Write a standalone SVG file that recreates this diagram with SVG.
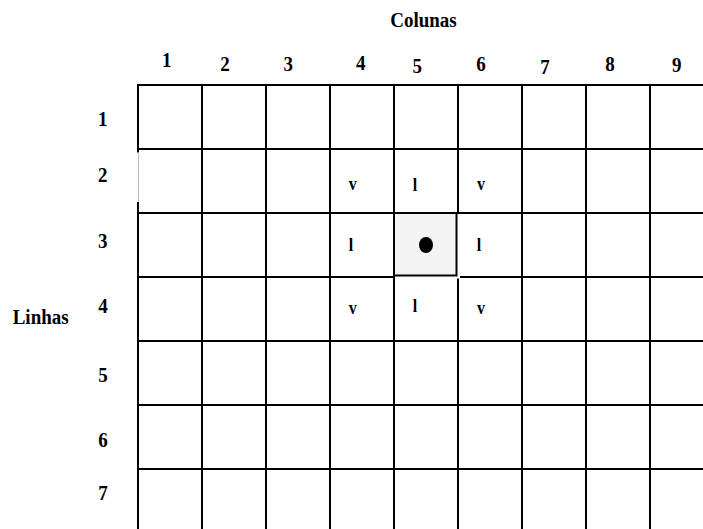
<svg xmlns="http://www.w3.org/2000/svg" width="703" height="529" viewBox="0 0 703 529">
<style>
text{font-family:"Liberation Serif","Times New Roman",serif;font-weight:bold;fill:#000;}
.lab{font-size:19px;text-anchor:middle;}
.ttl{font-size:19px;}
.mk{font-size:16px;text-anchor:middle;}
.g line{stroke:#000;stroke-width:2;}
</style>
<rect width="703" height="529" fill="#fff"/>
<g id="titles">
<text class="ttl" transform="translate(423.5,26.5) scale(1,1.15)" text-anchor="middle">Colunas</text>
<text class="ttl" transform="translate(12.7,324) scale(1,1.1)">Linhas</text>
</g>
<g id="col-labels">
<text class="lab" transform="translate(166.7,66.7) scale(1,1.15)">1</text>
<text class="lab" transform="translate(225,70.7) scale(1,1.15)">2</text>
<text class="lab" transform="translate(288.3,70.7) scale(1,1.15)">3</text>
<text class="lab" transform="translate(360.7,70) scale(1,1.15)">4</text>
<text class="lab" transform="translate(417.3,72.7) scale(1,1.15)">5</text>
<text class="lab" transform="translate(481,70.7) scale(1,1.15)">6</text>
<text class="lab" transform="translate(545,74.3) scale(1,1.15)">7</text>
<text class="lab" transform="translate(610,71) scale(1,1.15)">8</text>
<text class="lab" transform="translate(676.7,72.3) scale(1,1.15)">9</text>
</g>
<g id="row-labels">
<text class="lab" transform="translate(102.7,126) scale(1,1.15)">1</text>
<text class="lab" transform="translate(102.7,181.7) scale(1,1.15)">2</text>
<text class="lab" transform="translate(102.7,248) scale(1,1.15)">3</text>
<text class="lab" transform="translate(103,313.3) scale(1,1.15)">4</text>
<text class="lab" transform="translate(103,382.3) scale(1,1.15)">5</text>
<text class="lab" transform="translate(103,446.7) scale(1,1.15)">6</text>
<text class="lab" transform="translate(103,500) scale(1,1.15)">7</text>
</g>
<g id="grid" class="g">
<line x1="137" y1="85" x2="703" y2="85"/>
<line x1="138" y1="149" x2="703" y2="149"/>
<line x1="138" y1="213" x2="703" y2="213"/>
<line x1="138" y1="277" x2="703" y2="277"/>
<line x1="138" y1="341" x2="703" y2="341"/>
<line x1="138" y1="405" x2="703" y2="405"/>
<line x1="138" y1="469" x2="703" y2="469"/>
<line x1="138" y1="84" x2="138" y2="152.5"/>
<line x1="138" y1="202" x2="138" y2="529"/>
<line x1="202" y1="85" x2="202" y2="529"/>
<line x1="266" y1="85" x2="266" y2="529"/>
<line x1="330" y1="85" x2="330" y2="529"/>
<line x1="394" y1="85" x2="394" y2="529"/>
<line x1="458" y1="85" x2="458" y2="529"/>
<line x1="522" y1="85" x2="522" y2="529"/>
<line x1="586" y1="85" x2="586" y2="529"/>
<line x1="650" y1="85" x2="650" y2="529"/>
</g>
<line x1="138.5" y1="152.5" x2="138.5" y2="202" stroke="#bbb" stroke-width="1"/>
<g id="center-cell">
<rect x="395" y="214" width="65" height="64.5" fill="#fff"/>
<rect x="394" y="213" width="62.5" height="62.5" fill="#f4f4f4" stroke="#000" stroke-width="2"/>
<ellipse cx="426" cy="245" rx="7" ry="8" fill="#000"/>
</g>
<g id="marks">
<text class="mk" transform="translate(352.7,190) scale(1,1.15)">v</text>
<text class="mk" transform="translate(415,190.7) scale(1,1.15)">l</text>
<text class="mk" transform="translate(481,190) scale(1,1.15)">v</text>
<text class="mk" transform="translate(351,250.7) scale(1,1.15)">l</text>
<text class="mk" transform="translate(479,250.7) scale(1,1.15)">l</text>
<text class="mk" transform="translate(352.7,314) scale(1,1.15)">v</text>
<text class="mk" transform="translate(415,311.7) scale(1,1.15)">l</text>
<text class="mk" transform="translate(481,314) scale(1,1.15)">v</text>
</g>
</svg>
